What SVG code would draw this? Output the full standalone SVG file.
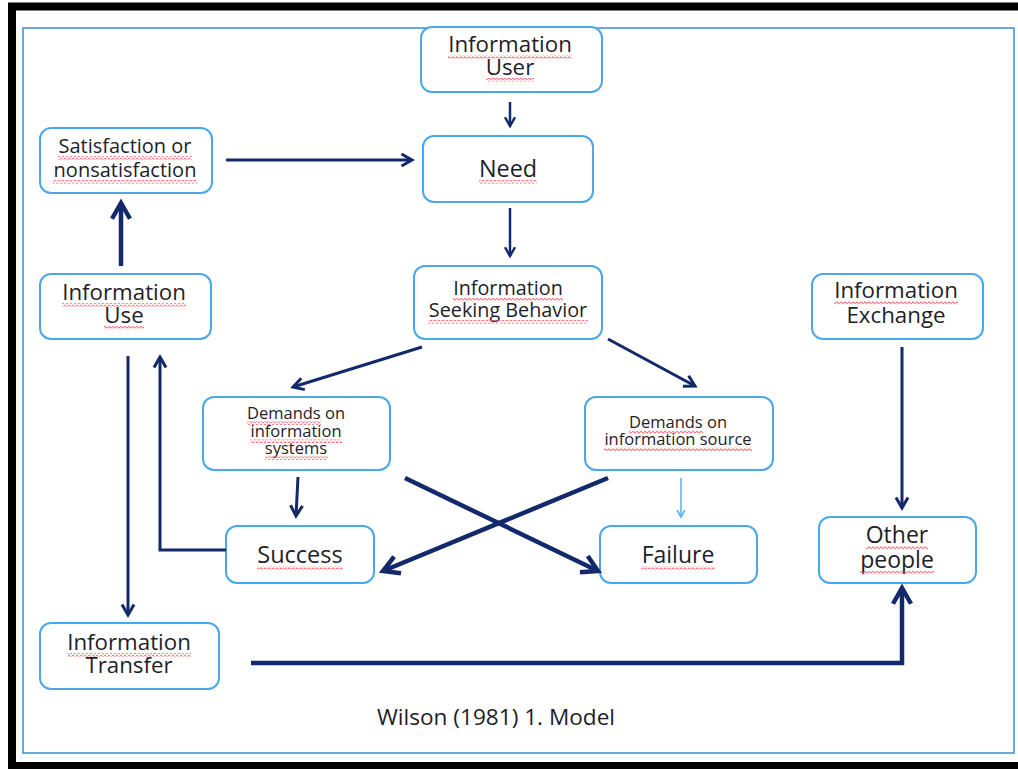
<svg xmlns="http://www.w3.org/2000/svg" width="1018" height="769" viewBox="0 0 1018 769">
<style>
  .box { fill: #ffffff; stroke: #4aa8e6; stroke-width: 2; }
  .t { font-family: "Open Sans", "Noto Sans", sans-serif; fill: #1e1e28; text-anchor: middle; }
  .w { fill: url(#wave); }
  .c { fill: none; stroke: #13296b; stroke-linejoin: miter; }
  .cl { fill: none; stroke: #5cb8f0; }
</style>
<defs>
  <pattern id="wave" patternUnits="userSpaceOnUse" x="0" y="0" width="4" height="3.5">
    <path d="M0,1.75 Q1,0.2 2,1.75 T4,1.75" fill="none" stroke="#f0505a" stroke-width="0.9"/>
  </pattern>
  <marker id="ah" viewBox="0 0 10 10" markerWidth="5" markerHeight="5" refX="8.5" refY="5" orient="auto" markerUnits="strokeWidth" overflow="visible">
    <path d="M1.5,1 L8.5,5 L1.5,9" fill="none" stroke="#13296b" stroke-width="2"/>
  </marker>
  <marker id="ahl" viewBox="0 0 10 10" markerWidth="6" markerHeight="6" refX="8.5" refY="5" orient="auto" markerUnits="strokeWidth" overflow="visible">
    <path d="M1.5,1 L8.5,5 L1.5,9" fill="none" stroke="#5cb8f0" stroke-width="1.8"/>
  </marker>
</defs>
<rect x="0" y="0" width="1018" height="769" fill="#ffffff"/>
<rect x="12" y="6.5" width="1100" height="759.5" fill="none" stroke="#000000" stroke-width="8"/>
<rect x="23" y="28" width="991" height="725" fill="none" stroke="#4a94d2" stroke-width="1.6"/>

<g id="n-user">
  <rect class="box" x="421" y="27" width="181" height="65" rx="11"/>
  <text class="t" font-size="22.3" x="510" y="52">Information</text>
  <text class="t" font-size="22.3" x="510" y="75">User</text>
  <rect class="w" x="448" y="55" width="124" height="3.5"/>
  <rect class="w" x="486" y="78" width="48" height="3.5"/>
</g>
<g id="n-need">
  <rect class="box" x="423" y="136" width="170" height="66" rx="11"/>
  <text class="t" font-size="23.4" x="508" y="177">Need</text>
  <rect class="w" x="479" y="180" width="58" height="3.5"/>
</g>
<g id="n-satisfaction">
  <rect class="box" x="40" y="128" width="172" height="65" rx="11"/>
  <text class="t" font-size="20" x="125" y="153">Satisfaction or</text>
  <text class="t" font-size="20" x="125" y="177">nonsatisfaction</text>
  <rect class="w" x="58" y="156" width="134" height="3.5"/>
  <rect class="w" x="53" y="180" width="144" height="3.5"/>
</g>
<g id="n-use">
  <rect class="box" x="40" y="274" width="171" height="65" rx="11"/>
  <text class="t" font-size="22.3" x="124" y="300">Information</text>
  <text class="t" font-size="22.3" x="124" y="323">Use</text>
  <rect class="w" x="62" y="303" width="124" height="3.5"/>
  <rect class="w" x="104" y="326" width="40" height="3.5"/>
</g>
<g id="n-seeking">
  <rect class="box" x="414" y="266" width="188" height="73" rx="11"/>
  <text class="t" font-size="19.8" x="508" y="295">Information</text>
  <text class="t" font-size="19.8" x="508" y="317">Seeking Behavior</text>
  <rect class="w" x="453" y="298" width="110" height="3.5"/>
  <rect class="w" x="428" y="320" width="160" height="3.5"/>
</g>
<g id="n-exchange">
  <rect class="box" x="812" y="274" width="171" height="65" rx="11"/>
  <text class="t" font-size="22.3" x="896" y="298">Information</text>
  <text class="t" font-size="22.3" x="896" y="323">Exchange</text>
  <rect class="w" x="834" y="301" width="124" height="3.5"/>
</g>
<g id="n-dsystems">
  <rect class="box" x="203" y="397" width="187" height="73" rx="11"/>
  <text class="t" font-size="16.5" x="296" y="419">Demands on</text>
  <text class="t" font-size="16.5" x="296" y="437">information</text>
  <text class="t" font-size="16.5" x="296" y="454">systems</text>
  <rect class="w" x="247" y="421.5" width="74" height="3.5"/>
  <rect class="w" x="250" y="439.5" width="92" height="3.5"/>
  <rect class="w" x="265" y="456.5" width="63" height="3.5"/>
</g>
<g id="n-dsource">
  <rect class="box" x="585" y="397" width="188" height="73" rx="11"/>
  <text class="t" font-size="16.5" x="678" y="428">Demands on</text>
  <text class="t" font-size="16.5" x="678" y="445">information source</text>
  <rect class="w" x="629" y="430.5" width="74" height="3.5"/>
  <rect class="w" x="604" y="447.5" width="148" height="3.5"/>
</g>
<g id="n-success">
  <rect class="box" x="226" y="526" width="148" height="57" rx="11"/>
  <text class="t" font-size="23.5" x="300" y="563">Success</text>
  <rect class="w" x="257" y="566" width="86" height="3.5"/>
</g>
<g id="n-failure">
  <rect class="box" x="600" y="526" width="157" height="57" rx="11"/>
  <text class="t" font-size="23" x="678" y="563">Failure</text>
  <rect class="w" x="641" y="566" width="74" height="3.5"/>
</g>
<g id="n-other">
  <rect class="box" x="819" y="517" width="157" height="66" rx="11"/>
  <text class="t" font-size="23" x="897" y="543">Other</text>
  <text class="t" font-size="23" x="897" y="568">people</text>
  <rect class="w" x="866" y="546" width="62" height="3.5"/>
  <rect class="w" x="860" y="571" width="74" height="3.5"/>
</g>
<g id="n-transfer">
  <rect class="box" x="40" y="623" width="179" height="66" rx="11"/>
  <text class="t" font-size="22.3" x="129" y="650">Information</text>
  <text class="t" font-size="22.3" x="129" y="673">Transfer</text>
  <rect class="w" x="67" y="653" width="124" height="3.5"/>
</g>

<g id="connectors">
  <path class="c" stroke-width="2.5" d="M510,102 L510,126" marker-end="url(#ah)"/>
  <path class="c" stroke-width="3" d="M226,160 L412,160" marker-end="url(#ah)"/>
  <path class="c" stroke-width="2.5" d="M510,208 L510,256" marker-end="url(#ah)"/>
  <path class="c" stroke-width="3" d="M422,347 L293,387" marker-end="url(#ah)"/>
  <path class="c" stroke-width="3" d="M608,339 L695,386" marker-end="url(#ah)"/>
  <path class="c" stroke-width="4.5" d="M121,266 L121,203" marker-end="url(#ah)"/>
  <path class="c" stroke-width="3" d="M128,356 L128,615" marker-end="url(#ah)"/>
  <path class="c" stroke-width="3" d="M226,550 L160,550 L160,357" marker-end="url(#ah)"/>
  <path class="c" stroke-width="3" d="M298,477 L296,516" marker-end="url(#ah)"/>
  <path class="cl" stroke-width="1.6" d="M681,478 L681,517" marker-end="url(#ahl)"/>
  <path class="c" stroke-width="4.5" d="M405,478 L598,571" marker-end="url(#ah)"/>
  <path class="c" stroke-width="4.5" d="M608,478 L383,571" marker-end="url(#ah)"/>
  <path class="c" stroke-width="3" d="M902,347 L902,508" marker-end="url(#ah)"/>
  <path class="c" stroke-width="4.5" d="M251,663 L902,663 L902,588" marker-end="url(#ah)"/>
</g>

<text class="t" font-size="22.6" x="496" y="725">Wilson (1981) 1. Model</text>
</svg>
